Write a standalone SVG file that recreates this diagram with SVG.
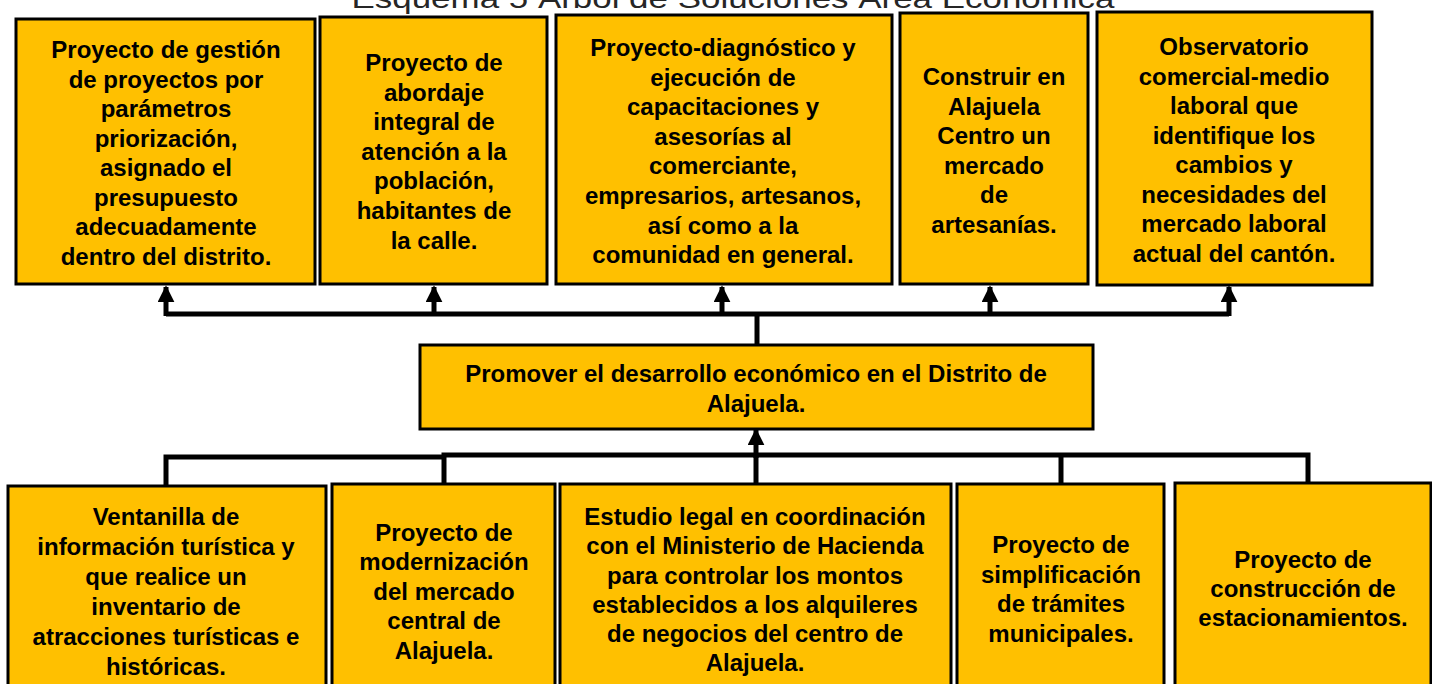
<svg xmlns="http://www.w3.org/2000/svg" width="1432" height="684" viewBox="0 0 1432 684">
<style>
.box{fill:#FFC000;stroke:#000;stroke-width:3}
.t{font-family:"Liberation Sans",Arial,sans-serif;font-weight:bold;font-size:24px;fill:#000;text-anchor:middle}
.title{font-family:"Liberation Sans",Arial,sans-serif;font-size:28px;fill:#262626;text-anchor:middle}
.c{fill:none;stroke:#000;stroke-width:5}
</style>
<defs>
<marker id="ah" viewBox="0 0 10 10" refX="9" refY="5" markerWidth="3.4" markerHeight="3.4" orient="auto" markerUnits="strokeWidth">
<path d="M0,0 L10,5 L0,10 z" fill="#000"/>
</marker>
</defs>
<rect width="1432" height="684" fill="#fff"/>
<text class="title" x="733" y="8" textLength="763" lengthAdjust="spacingAndGlyphs">Esquema 5 Árbol de Soluciones Área Económica</text>

<g id="connectors">
<polyline class="c" points="166,314 1229,314"/>
<line class="c" x1="166" y1="316" x2="166" y2="287" marker-end="url(#ah)"/>
<line class="c" x1="434" y1="316" x2="434" y2="287" marker-end="url(#ah)"/>
<line class="c" x1="722" y1="316" x2="722" y2="287" marker-end="url(#ah)"/>
<line class="c" x1="990" y1="316" x2="990" y2="287" marker-end="url(#ah)"/>
<line class="c" x1="1229" y1="316" x2="1229" y2="287" marker-end="url(#ah)"/>
<line class="c" x1="757" y1="312" x2="757" y2="345"/>
<line class="c" x1="756" y1="458" x2="756" y2="430" marker-end="url(#ah)"/>
<polyline class="c" points="166,486 166,457 444,457"/>
<polyline class="c" points="444,484 444,455 1308,455 1308,484"/>
<line class="c" x1="756" y1="455" x2="756" y2="484"/>
<line class="c" x1="1061" y1="455" x2="1061" y2="484"/>
</g>

<g id="t1"><rect class="box" x="16" y="19" width="299" height="265"/>
<text class="t"><tspan x="166" y="58">Proyecto de gestión</tspan><tspan x="166" y="87.5">de proyectos por</tspan><tspan x="166" y="117">parámetros</tspan><tspan x="166" y="146.5">priorización,</tspan><tspan x="166" y="176">asignado el</tspan><tspan x="166" y="205.5">presupuesto</tspan><tspan x="166" y="235">adecuadamente</tspan><tspan x="166" y="264.5">dentro del distrito.</tspan></text></g>

<g id="t2"><rect class="box" x="320" y="17" width="227" height="267"/>
<text class="t"><tspan x="434" y="71">Proyecto de</tspan><tspan x="434" y="100.6">abordaje</tspan><tspan x="434" y="130.2">integral de</tspan><tspan x="434" y="159.8">atención a la</tspan><tspan x="434" y="189.4">población,</tspan><tspan x="434" y="219">habitantes de</tspan><tspan x="434" y="248.6">la calle.</tspan></text></g>

<g id="t3"><rect class="box" x="556" y="15" width="336" height="269"/>
<text class="t"><tspan x="723" y="56">Proyecto-diagnóstico y</tspan><tspan x="723" y="85.6">ejecución de</tspan><tspan x="723" y="115.2">capacitaciones y</tspan><tspan x="723" y="144.8">asesorías al</tspan><tspan x="723" y="174.4">comerciante,</tspan><tspan x="723" y="204">empresarios, artesanos,</tspan><tspan x="723" y="233.6">así como a la</tspan><tspan x="723" y="263.2">comunidad en general.</tspan></text></g>

<g id="t4"><rect class="box" x="900" y="13" width="188" height="271"/>
<text class="t"><tspan x="994" y="85">Construir en</tspan><tspan x="994" y="114.5">Alajuela</tspan><tspan x="994" y="144">Centro un</tspan><tspan x="994" y="173.5">mercado</tspan><tspan x="994" y="203">de</tspan><tspan x="994" y="232.5">artesanías.</tspan></text></g>

<g id="t5"><rect class="box" x="1097" y="12" width="275" height="273"/>
<text class="t"><tspan x="1234" y="55">Observatorio</tspan><tspan x="1234" y="84.5">comercial-medio</tspan><tspan x="1234" y="114">laboral que</tspan><tspan x="1234" y="143.5">identifique los</tspan><tspan x="1234" y="173">cambios y</tspan><tspan x="1234" y="202.5">necesidades del</tspan><tspan x="1234" y="232">mercado laboral</tspan><tspan x="1234" y="261.5">actual del cantón.</tspan></text></g>

<g id="center"><rect class="box" x="420" y="345" width="673" height="84"/>
<text class="t"><tspan x="756" y="382">Promover el desarrollo económico en el Distrito de</tspan><tspan x="756" y="412">Alajuela.</tspan></text></g>

<g id="b1"><rect class="box" x="8" y="486" width="318" height="210"/>
<text class="t"><tspan x="166" y="525">Ventanilla de</tspan><tspan x="166" y="555">información turística y</tspan><tspan x="166" y="585">que realice un</tspan><tspan x="166" y="615">inventario de</tspan><tspan x="166" y="645">atracciones turísticas e</tspan><tspan x="166" y="675">históricas.</tspan></text></g>

<g id="b2"><rect class="box" x="332" y="484" width="223" height="212"/>
<text class="t"><tspan x="444" y="541">Proyecto de</tspan><tspan x="444" y="570">modernización</tspan><tspan x="444" y="599.5">del mercado</tspan><tspan x="444" y="629">central de</tspan><tspan x="444" y="658.5">Alajuela.</tspan></text></g>

<g id="b3"><rect class="box" x="560" y="484" width="391" height="212"/>
<text class="t"><tspan x="755" y="525">Estudio legal en coordinación</tspan><tspan x="755" y="554">con el Ministerio de Hacienda</tspan><tspan x="755" y="583.5">para controlar los montos</tspan><tspan x="755" y="613">establecidos a los alquileres</tspan><tspan x="755" y="642">de negocios del centro de</tspan><tspan x="755" y="671">Alajuela.</tspan></text></g>

<g id="b4"><rect class="box" x="957" y="484" width="207" height="212"/>
<text class="t"><tspan x="1061" y="553">Proyecto de</tspan><tspan x="1061" y="582.5">simplificación</tspan><tspan x="1061" y="612">de trámites</tspan><tspan x="1061" y="641.5">municipales.</tspan></text></g>

<g id="b5"><rect class="box" x="1175" y="483" width="256" height="213"/>
<text class="t"><tspan x="1303" y="568">Proyecto de</tspan><tspan x="1303" y="597">construcción de</tspan><tspan x="1303" y="626">estacionamientos.</tspan></text></g>
</svg>
